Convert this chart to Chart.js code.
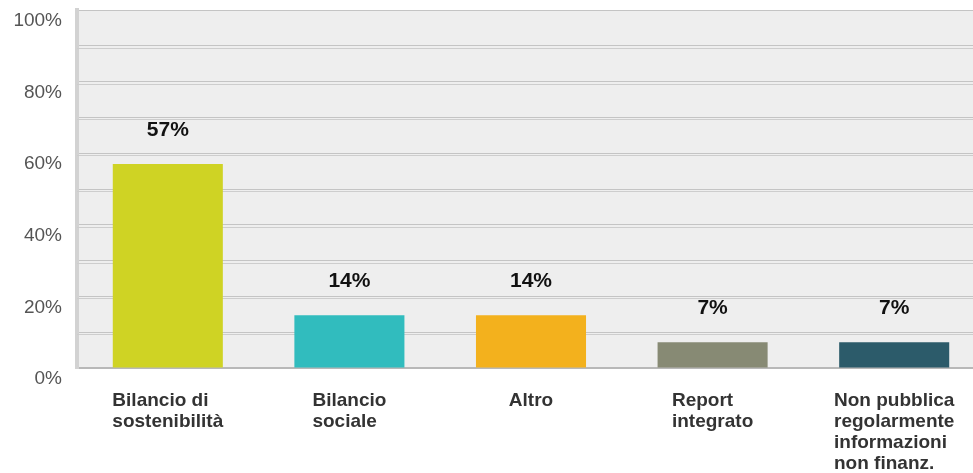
<!DOCTYPE html>
<html>
<head>
<meta charset="utf-8">
<script src="https://cdn.jsdelivr.net/npm/chart.js@4"></script>
<style>
html,body{margin:0;padding:0;background:#fff;overflow:hidden;width:973px;height:473px;}
#wrap{position:absolute;left:0;top:0;width:985px;height:473px;}
</style>
</head>
<body>
<div id="wrap"><canvas id="c" width="985" height="473"></canvas></div>
<script>
const categories = [
  ["Bilancio di", "sostenibilità"],
  ["Bilancio", "sociale"],
  ["Altro"],
  ["Report", "integrato"],
  ["Non pubblica", "regolarmente", "informazioni", "non finanz."]
];
const values = [57, 14.7, 14.7, 7.2, 7.2];
const valueLabels = ["57%", "14%", "14%", "7%", "7%"];
const barColors = ["#cfd324", "#31bcbe", "#f3b11d", "#878a74", "#2c5b6a"];
const yTicks = [0, 20, 40, 60, 80, 100];

const FONT = "'Liberation Sans', Arial, sans-serif";

const bgPlugin = {
  id: 'bg',
  beforeDraw(chart) {
    const {ctx, chartArea: a} = chart;
    ctx.save();
    ctx.fillStyle = '#eeeeee';
    ctx.fillRect(a.left, a.top, a.right - a.left, a.bottom - a.top);
    ctx.restore();
  },
  beforeDatasetsDraw(chart) {
    const {ctx, chartArea: a, scales} = chart;
    const y = scales.y;
    ctx.save();
    ctx.strokeStyle = '#cdcdcd';
    ctx.lineWidth = 1;
    y.ticks.forEach(t => {
      if (t.value === 0 || t.value === 100) return;
      const py = Math.round(y.getPixelForValue(t.value)) + 2.5;
      ctx.beginPath();
      ctx.moveTo(a.left, py);
      ctx.lineTo(a.right, py);
      ctx.stroke();
    });
    ctx.restore();
  }
};

const labelPlugin = {
  id: 'labels',
  afterDatasetsDraw(chart) {
    const {ctx, scales} = chart;
    const meta = chart.getDatasetMeta(0);
    ctx.save();
    ctx.font = "bold 21px " + FONT;
    ctx.fillStyle = '#111';
    ctx.textAlign = 'center';
    ctx.textBaseline = 'middle';
    meta.data.forEach((bar, i) => {
      ctx.fillText(valueLabels[i], bar.x, bar.y - 34);
    });
    ctx.font = "bold 19px " + FONT;
    ctx.fillStyle = '#333';
    ctx.textAlign = 'left';
    categories.forEach((lines, i) => {
      const cx = scales.x.getPixelForValue(i);
      const w = Math.max(...lines.map(l => ctx.measureText(l).width));
      const x0 = cx - w / 2;
      lines.forEach((l, j) => {
        ctx.fillText(l, x0, 401 + j * 21);
      });
    });
    ctx.restore();
  }
};

new Chart(document.getElementById('c'), {
  type: 'bar',
  data: {
    labels: categories.map(c => c.join(' ')),
    datasets: [{
      data: values,
      backgroundColor: barColors,
      borderWidth: 0,
      barPercentage: 0.606,
      categoryPercentage: 1
    }]
  },
  options: {
    responsive: false,
    devicePixelRatio: 1,
    animation: false,
    layout: {padding: {top: 10, right: 0, bottom: 0, left: 0}},
    plugins: {legend: {display: false}, tooltip: {enabled: false}},
    scales: {
      x: {
        grid: {display: false, drawTicks: false},
        border: {display: true, color: '#b8b8b8', width: 2},
        ticks: {display: false},
        afterFit(s) { s.height = 105; s.paddingLeft = 0; s.paddingRight = 0; }
      },
      y: {
        min: 0, max: 100,
        afterFit(s) { s.width = 77; s.paddingTop = 0; s.paddingBottom = 0; },
        grid: {color: '#c4c4c4', lineWidth: 1, drawTicks: false},
        border: {display: true, color: '#d2d2d2', width: 4},
        ticks: {
          stepSize: 10,
          padding: 15,
          labelOffset: 11,
          color: '#555',
          font: {family: FONT, size: 19},
          callback: v => (yTicks.includes(v) ? v + '%' : '')
        }
      }
    }
  },
  plugins: [bgPlugin, labelPlugin]
});
</script>
</body>
</html>
